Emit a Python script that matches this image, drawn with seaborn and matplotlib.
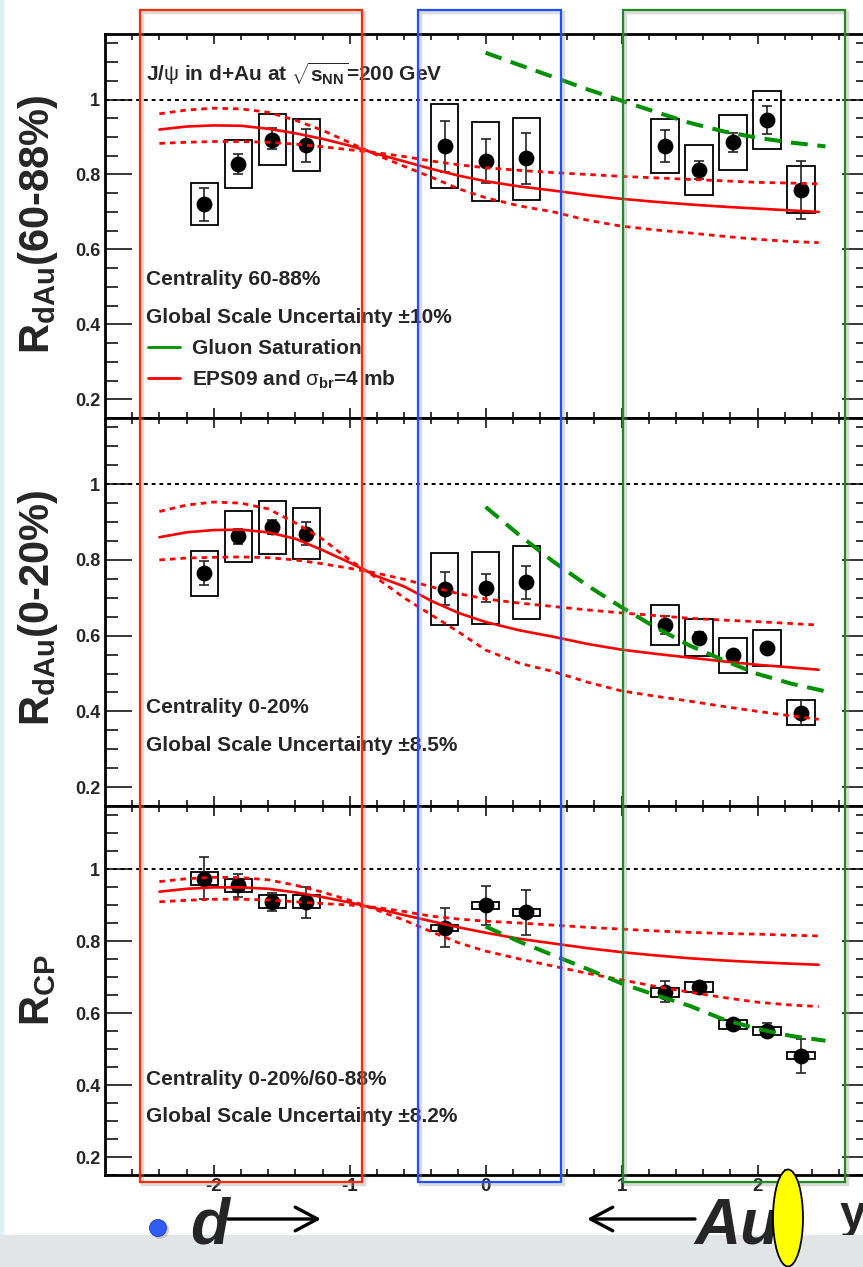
import numpy as np
import pandas as pd
import matplotlib
matplotlib.use("Agg")
import matplotlib.pyplot as plt
import seaborn as sns
from matplotlib.patches import Rectangle, Ellipse
from matplotlib.lines import Line2D

# ---------------- data ----------------
X_TICKS = [-2, -1, 0, 1, 2]
X_TICK_LABELS = ["-2", "-1", "0", "1", "2"]
Y_TICKS = [0.2, 0.4, 0.6, 0.8, 1.0]
Y_TICK_LABELS = ["0.2", "0.4", "0.6", "0.8", "1"]

# rapidity of the J/psi points
X_PTS = [-2.07, -1.82, -1.57, -1.32, -0.30, 0.00, 0.30, 1.32, 1.57, 1.82, 2.07, 2.32]

# --- RdAu 60-88% ---
P60_VAL = [0.720, 0.829, 0.893, 0.878, 0.875, 0.835, 0.843, 0.877, 0.813, 0.886, 0.945, 0.758]
P60_ERR_HI = [0.763, 0.856, 0.923, 0.922, 0.944, 0.895, 0.912, 0.920, 0.835, 0.910, 0.982, 0.836]
P60_ERR_LO = [0.677, 0.800, 0.867, 0.834, 0.806, 0.776, 0.774, 0.833, 0.789, 0.861, 0.908, 0.680]
P60_SYS_HI = [0.776, 0.891, 0.962, 0.947, 0.989, 0.941, 0.952, 0.949, 0.880, 0.960, 1.024, 0.822]
P60_SYS_LO = [0.664, 0.763, 0.824, 0.809, 0.763, 0.728, 0.733, 0.803, 0.744, 0.813, 0.867, 0.696]

# --- RdAu 0-20% ---
P20_VAL = [0.765, 0.862, 0.887, 0.869, 0.723, 0.726, 0.741, 0.629, 0.595, 0.548, 0.567, 0.396]
P20_ERR_HI = [0.797, 0.882, 0.905, 0.900, 0.767, 0.762, 0.784, 0.653, 0.610, 0.560, 0.580, 0.430]
P20_ERR_LO = [0.733, 0.843, 0.869, 0.840, 0.681, 0.690, 0.698, 0.605, 0.580, 0.536, 0.554, 0.363]
P20_SYS_HI = [0.824, 0.930, 0.957, 0.938, 0.818, 0.820, 0.838, 0.682, 0.644, 0.594, 0.614, 0.429]
P20_SYS_LO = [0.705, 0.795, 0.816, 0.802, 0.629, 0.632, 0.645, 0.576, 0.545, 0.502, 0.519, 0.363]

# --- RCP ---
PCP_VAL = [0.973, 0.956, 0.909, 0.909, 0.837, 0.899, 0.880, 0.659, 0.673, 0.569, 0.551, 0.481]
PCP_ERR_HI = [1.032, 0.986, 0.934, 0.951, 0.891, 0.953, 0.942, 0.690, 0.685, 0.580, 0.573, 0.527]
PCP_ERR_LO = [0.916, 0.923, 0.883, 0.865, 0.783, 0.844, 0.818, 0.630, 0.661, 0.558, 0.532, 0.433]
PCP_SYS_HI = [0.993, 0.973, 0.928, 0.928, 0.844, 0.907, 0.889, 0.670, 0.685, 0.581, 0.560, 0.491]
PCP_SYS_LO = [0.955, 0.936, 0.891, 0.891, 0.828, 0.889, 0.870, 0.645, 0.658, 0.556, 0.539, 0.471]

# --- EPS09 + sigma_br = 4 mb calculations ---
X_EPS = [-2.4, -2.2, -2.0, -1.8, -1.6, -1.4, -1.2, -1.0, -0.8, -0.6, -0.4, -0.2,
         0.0, 0.25, 0.5, 0.75, 1.0, 1.25, 1.5, 1.75, 2.0, 2.25, 2.45]
EPS60_MID = [0.920, 0.928, 0.931, 0.930, 0.922, 0.910, 0.895, 0.877, 0.855, 0.835, 0.815, 0.797,
             0.782, 0.768, 0.757, 0.745, 0.735, 0.727, 0.720, 0.714, 0.709, 0.704, 0.700]
EPS60_A = [0.962, 0.972, 0.977, 0.975, 0.966, 0.945, 0.918, 0.885, 0.852, 0.822, 0.793, 0.762,
           0.738, 0.716, 0.700, 0.678, 0.662, 0.652, 0.644, 0.635, 0.627, 0.621, 0.618]
EPS60_B = [0.883, 0.886, 0.888, 0.888, 0.886, 0.881, 0.874, 0.866, 0.858, 0.848, 0.836, 0.826,
           0.818, 0.811, 0.805, 0.800, 0.795, 0.791, 0.787, 0.783, 0.779, 0.777, 0.775]
EPS20_MID = [0.860, 0.873, 0.879, 0.880, 0.873, 0.856, 0.826, 0.793, 0.757, 0.730, 0.692, 0.660,
             0.636, 0.614, 0.597, 0.578, 0.563, 0.552, 0.542, 0.532, 0.523, 0.516, 0.510]
EPS20_A = [0.928, 0.945, 0.953, 0.950, 0.935, 0.898, 0.855, 0.800, 0.752, 0.700, 0.655, 0.610,
           0.562, 0.527, 0.505, 0.477, 0.454, 0.440, 0.427, 0.413, 0.400, 0.388, 0.379]
EPS20_B = [0.800, 0.805, 0.807, 0.808, 0.806, 0.800, 0.790, 0.778, 0.765, 0.749, 0.729, 0.711,
           0.697, 0.686, 0.677, 0.668, 0.660, 0.653, 0.646, 0.641, 0.637, 0.632, 0.628]
EPSCP_MID = [0.937, 0.945, 0.949, 0.949, 0.945, 0.935, 0.922, 0.907, 0.890, 0.872, 0.855, 0.838,
             0.823, 0.806, 0.793, 0.780, 0.769, 0.760, 0.752, 0.746, 0.741, 0.737, 0.734]
EPSCP_A = [0.965, 0.973, 0.977, 0.976, 0.970, 0.955, 0.936, 0.913, 0.886, 0.858, 0.826, 0.795,
           0.772, 0.750, 0.730, 0.710, 0.692, 0.674, 0.658, 0.643, 0.630, 0.622, 0.618]
EPSCP_B = [0.909, 0.913, 0.916, 0.916, 0.914, 0.909, 0.904, 0.900, 0.893, 0.882, 0.869, 0.861,
           0.855, 0.850, 0.844, 0.838, 0.833, 0.828, 0.824, 0.821, 0.819, 0.816, 0.814]

# --- Gluon saturation calculations ---
X_SAT = [0.0, 0.25, 0.5, 0.75, 1.0, 1.25, 1.5, 1.75, 2.0, 2.25, 2.5]
SAT60 = [1.125, 1.092, 1.060, 1.027, 0.997, 0.967, 0.938, 0.915, 0.898, 0.885, 0.875]
SAT20 = [0.940, 0.865, 0.795, 0.732, 0.675, 0.622, 0.574, 0.535, 0.499, 0.473, 0.453]
SATCP = [0.840, 0.798, 0.760, 0.722, 0.682, 0.650, 0.620, 0.582, 0.556, 0.536, 0.523]

PANEL_YLABELS = [r"$\mathbf{R_{dAu}}$(60-88%)", r"$\mathbf{R_{dAu}}$(0-20%)", r"$\mathbf{R_{CP}}$"]
PANEL_TEXT1 = ["Centrality 60-88%", "Centrality 0-20%", "Centrality 0-20%/60-88%"]
PANEL_TEXT2 = ["Global Scale Uncertainty \u00b110%", "Global Scale Uncertainty \u00b18.5%",
               "Global Scale Uncertainty \u00b18.2%"]
TITLE = r"J/$\psi$ in d+Au at $\sqrt{\mathbf{s_{NN}}}$=200 GeV"
LEGEND_LABELS = ["Gluon Saturation", r"EPS09 and $\sigma_{\mathbf{br}}$=4 mb"]

# ---------------- style ----------------
sns.set_style("ticks")
plt.rcParams["font.family"] = ["Liberation Sans", "DejaVu Sans"]
plt.rcParams["mathtext.fontset"] = "custom"
plt.rcParams["mathtext.rm"] = "Liberation Sans"
plt.rcParams["mathtext.it"] = "Liberation Sans"
plt.rcParams["mathtext.bf"] = "Liberation Sans:bold"

W, H = 863, 1267
fig = plt.figure(figsize=(W / 100, H / 100), dpi=100)
fig.patch.set_facecolor("white")


def fx(px):
    return px / W


def fy(py):
    return 1 - py / H


RED = "#ff0000"
GREEN = "#009000"

panels = [
    dict(top=34, bot=418, val=P60_VAL, ehi=P60_ERR_HI, elo=P60_ERR_LO, shi=P60_SYS_HI, slo=P60_SYS_LO,
         mid=EPS60_MID, a=EPS60_A, b=EPS60_B, sat=SAT60, ylab_y=224,
         t1=(0.504, PANEL_TEXT1[0]), t2=(0.404, PANEL_TEXT2[0])),
    dict(top=418, bot=806, val=P20_VAL, ehi=P20_ERR_HI, elo=P20_ERR_LO, shi=P20_SYS_HI, slo=P20_SYS_LO,
         mid=EPS20_MID, a=EPS20_A, b=EPS20_B, sat=SAT20, ylab_y=608,
         t1=(0.396, PANEL_TEXT1[1]), t2=(0.296, PANEL_TEXT2[1])),
    dict(top=806, bot=1175, val=PCP_VAL, ehi=PCP_ERR_HI, elo=PCP_ERR_LO, shi=PCP_SYS_HI, slo=PCP_SYS_LO,
         mid=EPSCP_MID, a=EPSCP_A, b=EPSCP_B, sat=SATCP, ylab_y=990,
         t1=(0.400, PANEL_TEXT1[2]), t2=(0.298, PANEL_TEXT2[2])),
]

axes = []
for i, p in enumerate(panels):
    ax = fig.add_axes([fx(105), fy(p["bot"]), (869 - 105) / W, (p["bot"] - p["top"]) / H])
    axes.append(ax)
    ax.set_facecolor("white")
    ax.set_xlim(-2.8, 2.82)
    ax.set_ylim(0.15, 1.175)

    xs = np.array(X_PTS)
    val = np.array(p["val"])
    slo = np.array(p["slo"])
    shi = np.array(p["shi"])
    # systematic boxes
    ax.bar(xs, shi - slo, bottom=slo, width=0.2, fill=False, edgecolor="black",
           linewidth=1.3, zorder=2)
    # statistical error bars
    ax.errorbar(xs, val, yerr=[val - np.array(p["elo"]), np.array(p["ehi"]) - val], fmt="none",
                ecolor="#222222", elinewidth=1.2, capsize=3.8, capthick=1.2, zorder=3)
    # data points
    sns.scatterplot(x=xs, y=val, ax=ax, color="black", s=130, edgecolor="black", linewidth=0, zorder=4)

    # unity line
    ax.axhline(1.0, color="black", lw=1.4, ls=(0, (2.0, 2.0)), zorder=5)

    # theory curves
    df_eps = pd.DataFrame({"y": X_EPS, "mid": p["mid"], "a": p["a"], "b": p["b"]})
    sns.lineplot(data=df_eps, x="y", y="mid", ax=ax, color=RED, linewidth=1.9, zorder=6,
                 errorbar=None, sort=False)
    sns.lineplot(data=df_eps, x="y", y="a", ax=ax, color=RED, linewidth=2.0, ls=(0, (2.0, 1.8)),
                 zorder=6, errorbar=None, sort=False)
    sns.lineplot(data=df_eps, x="y", y="b", ax=ax, color=RED, linewidth=2.0, ls=(0, (2.0, 1.8)),
                 zorder=6, errorbar=None, sort=False)
    df_sat = pd.DataFrame({"y": X_SAT, "sat": p["sat"]})
    sns.lineplot(data=df_sat, x="y", y="sat", ax=ax, color=GREEN, linewidth=2.9, ls=(0, (4.2, 2.4)),
                 zorder=6, errorbar=None, sort=False)

    ax.set_xlabel("")
    ax.set_ylabel("")

    # ticks
    ax.set_xticks(X_TICKS)
    ax.set_xticks(np.arange(-2.6, 2.81, 0.2), minor=True)
    ax.set_yticks(Y_TICKS)
    ax.set_yticks(np.arange(0.15, 1.176, 0.05), minor=True)
    ax.set_yticklabels(Y_TICK_LABELS, fontsize=13, fontweight="bold")
    if i == 2:
        ax.set_xticklabels(X_TICK_LABELS, fontsize=13.5, fontweight="bold")
    else:
        ax.set_xticklabels([])
    ax.tick_params(axis="both", which="both", direction="in", top=True, right=True,
                   color="black", width=1.1)
    ax.tick_params(axis="y", which="major", length=19.5, pad=3.5)
    ax.tick_params(axis="y", which="minor", length=9.5)
    ax.tick_params(axis="x", which="major", length=7.5, pad=2)
    ax.tick_params(axis="x", which="minor", length=4)
    for s in ax.spines.values():
        s.set_linewidth(2.0)
        s.set_color("black")

    # annotations
    ax.text(-2.5, p["t1"][0], p["t1"][1], fontsize=15, fontweight="bold", va="baseline", ha="left")
    ax.text(-2.5, p["t2"][0], p["t2"][1], fontsize=15, fontweight="bold", va="baseline", ha="left")

    fig.text(fx(38), fy(p["ylab_y"]), PANEL_YLABELS[i], rotation=90, ha="center", va="center",
             fontsize=30, fontweight="bold")

# title and legend in top panel
ax0 = axes[0]
ax0.text(-2.5, 1.049, TITLE, fontsize=15, fontweight="bold", va="baseline", ha="left")
handles = [Line2D([], [], color=GREEN, lw=2.0), Line2D([], [], color=RED, lw=2.0)]
ax0.legend(handles, LEGEND_LABELS, loc="upper left", bbox_to_anchor=((148 - 105) / 764, 0.205),
           frameon=False, prop={"weight": "bold", "size": 15}, handlelength=1.55,
           handletextpad=0.58, labelspacing=0.5, borderpad=0, borderaxespad=0)

# ---------------- overlay decorations ----------------
# gray band at bottom and light strip at left
fig.add_artist(Rectangle((0, 0), 1, (H - 1235) / H, transform=fig.transFigure,
                         facecolor="#e2e5e5", edgecolor="none", zorder=2))
fig.add_artist(Rectangle((0, fy(1235)), 4 / W, 1235 / H, transform=fig.transFigure,
                         facecolor="#ddf1f5", edgecolor="none", zorder=2))

# highlight rectangles
for (x0, x1, col) in [(140, 362, "#ff2a00"), (418, 561, "#1f4fff"), (623, 845, "#1e8c1e")]:
    fig.add_artist(Rectangle((fx(x0 + 2), fy(1184)), (x1 - x0) / W, (1184 - 12) / H,
                             transform=fig.transFigure, fill=False, edgecolor="#999999",
                             alpha=0.35, lw=2.5, zorder=7))
    fig.add_artist(Rectangle((fx(x0), fy(1182)), (x1 - x0) / W, (1182 - 10) / H,
                             transform=fig.transFigure, fill=False, edgecolor=col, lw=1.6, zorder=8))

# "y" axis symbol (partly under band, cut by the right edge as in the original)
fig.text(fx(840), fy(1228), "y", fontsize=34, fontweight="bold", ha="left", va="baseline", zorder=1)

# d -> and <- Au
fig.text(fx(190), fy(1243), "d", fontsize=46, fontweight="bold", fontstyle="italic",
         ha="left", va="baseline", zorder=9)
fig.text(fx(694), fy(1243), "Au", fontsize=46, fontweight="bold", fontstyle="italic",
         ha="left", va="baseline", zorder=9)
ax_last = axes[2]
ax_last.annotate("", xy=(321, H - 1219), xytext=(228, H - 1219), xycoords="figure pixels",
                 textcoords="figure pixels", annotation_clip=False,
                 arrowprops=dict(arrowstyle="->,head_length=1.6,head_width=0.85", lw=2.4,
                                 color="black", shrinkA=0, shrinkB=0))
ax_last.annotate("", xy=(587, H - 1219), xytext=(695, H - 1219), xycoords="figure pixels",
                 textcoords="figure pixels", annotation_clip=False,
                 arrowprops=dict(arrowstyle="->,head_length=1.6,head_width=0.85", lw=2.4,
                                 color="black", shrinkA=0, shrinkB=0))

# yellow ellipse and blue dot
fig.add_artist(Ellipse((fx(788), fy(1218)), 30 / W, 97 / H, transform=fig.transFigure,
                       facecolor="#ffff00", edgecolor="black", lw=1.3, zorder=10))
fig.add_artist(Ellipse((fx(160), fy(1230)), 18 / W, 18 / H, transform=fig.transFigure,
                       facecolor="#aaaaaa", edgecolor="none", alpha=0.5, zorder=9))
fig.add_artist(Ellipse((fx(158), fy(1228)), 17 / W, 17 / H, transform=fig.transFigure,
                       facecolor="#2f5cf2", edgecolor="#1a3cc0", lw=0.6, zorder=10))

fig.savefig("out.png", dpi=100)
